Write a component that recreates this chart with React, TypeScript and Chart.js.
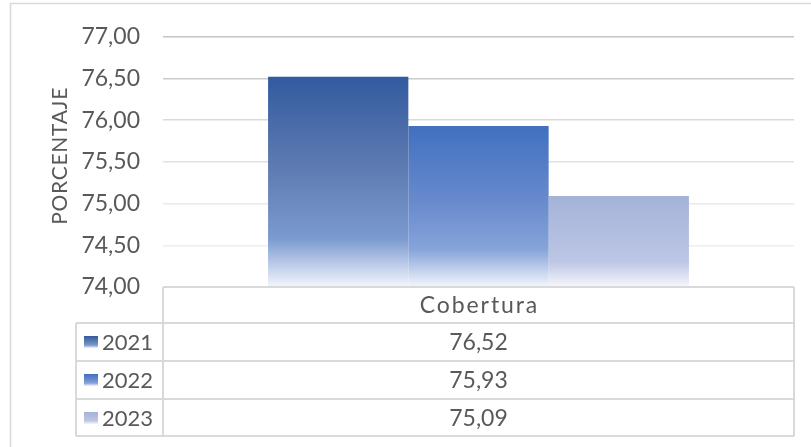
import React, { useEffect, useRef } from 'react';
import { Chart, registerables } from 'chart.js';

Chart.register(...registerables);

const categories = ['Cobertura'];
const seriesNames = ['2021', '2022', '2023'];
const seriesValues = [76.52, 75.93, 75.09];
const yMin = 74;
const yMax = 77;
const yStep = 0.5;
const axisTitle = 'PORCENTAJE';

const gradientStops: [number, string][][] = [
  [[0, '#335a9f'], [0.45, '#5f7db3'], [0.77, '#7b9ad0'], [1, '#f3f6fc']],
  [[0, '#4170c0'], [0.45, '#6689cc'], [0.77, '#87a4da'], [1, '#f3f6fc']],
  [[0, '#a5b3d9'], [0.72, '#bcc6e4'], [1, '#f6f7fc']],
];

const FONT = 'Lato, "Open Sans", sans-serif';
const TEXT = '#595959';
const LINE = '#d9d9d9';

const fmt = (v: number) => v.toFixed(2).replace('.', ',');

function makeGradient(ctx: CanvasRenderingContext2D, top: number, bottom: number, stops: [number, string][]) {
  const g = ctx.createLinearGradient(0, top, 0, bottom);
  stops.forEach(([o, c]) => g.addColorStop(o, c));
  return g;
}

const tablePlugin = {
  id: 'dataTable',
  afterDraw(chart: any) {
    const { ctx, chartArea } = chart;
    const left = chartArea.left;
    const right = chartArea.right;
    const top = chartArea.bottom;
    const colLeft = 76;
    const headerH = 36;
    const rowH = 38;
    const rowsTop = top + headerH;
    const bottom = rowsTop + rowH * seriesNames.length - 1;

    ctx.save();
    // outer chart border
    ctx.strokeStyle = LINE;
    ctx.lineWidth = 1.5;
    ctx.strokeRect(10.5, 3.5, 1000, 1000);

    // axis title
    ctx.fillStyle = TEXT;
    ctx.font = `21px ${FONT}`;
    (ctx as any).letterSpacing = '0.7px';
    ctx.textAlign = 'center';
    ctx.textBaseline = 'middle';
    ctx.save();
    ctx.translate(60, (chartArea.top + chartArea.bottom) / 2 - 6);
    ctx.rotate(-Math.PI / 2);
    ctx.fillText(axisTitle, 0, 0);
    ctx.restore();

    // table lines
    ctx.strokeStyle = LINE;
    ctx.lineWidth = 2;
    ctx.beginPath();
    ctx.moveTo(left, top);
    ctx.lineTo(right, top);
    for (let i = 0; i <= seriesNames.length; i++) {
      const y = i === seriesNames.length ? bottom : rowsTop + rowH * i;
      ctx.moveTo(colLeft, y);
      ctx.lineTo(right, y);
    }
    ctx.moveTo(left, top);
    ctx.lineTo(left, bottom);
    ctx.moveTo(right, top);
    ctx.lineTo(right, bottom);
    ctx.moveTo(colLeft, rowsTop);
    ctx.lineTo(colLeft, bottom);
    ctx.stroke();

    // header
    ctx.fillStyle = TEXT;
    ctx.font = `23px ${FONT}`;
    (ctx as any).letterSpacing = '1.9px';
    ctx.textAlign = 'center';
    ctx.textBaseline = 'middle';
    const cx = (left + right) / 2;
    ctx.fillText(categories[0], cx + 1, top + headerH / 2 + 1);
    (ctx as any).letterSpacing = '0px';

    seriesNames.forEach((name, i) => {
      const cy = rowsTop + rowH * i + rowH / 2;
      ctx.fillStyle = TEXT;
      ctx.font = `23px ${FONT}`;
      ctx.textAlign = 'center';
      ctx.fillText(fmt(seriesValues[i]), cx, cy + 1);
      ctx.font = `22px ${FONT}`;
      ctx.textAlign = 'left';
      ctx.fillText(name, 102, cy + 1);
      ctx.fillStyle = makeGradient(ctx, cy - 6, cy + 6, gradientStops[i]);
      ctx.fillRect(84, cy - 6, 14, 12);
    });
    ctx.restore();
  },
};

const gridColors: Record<string, string> = {
  '77': '#c4c4c4',
  '76.5': '#cbcbcb',
  '76': '#dadada',
  '75.5': '#e1e1e1',
  '75': '#eaeaea',
  '74.5': '#eeeeee',
  '74': '#d9d9d9',
};

export default function App() {
  const ref = useRef<HTMLCanvasElement>(null);

  useEffect(() => {
    if (!ref.current) return;
    const chart = new Chart(ref.current, {
      type: 'bar',
      data: {
        labels: categories,
        datasets: seriesNames.map((name, i) => ({
          label: name,
          data: [seriesValues[i]],
          borderWidth: 0,
          backgroundColor: (c: any) => {
            const ch = c.chart;
            if (!ch.chartArea || !ch.scales || !ch.scales.y) return gradientStops[i][0][1];
            const y = ch.scales.y.getPixelForValue(c.raw);
            const base = ch.scales.y.getPixelForValue(yMin);
            return makeGradient(ch.ctx, y, base, gradientStops[i]);
          },
        })),
      },
      options: {
        responsive: false,
        animation: false,
        layout: { padding: { left: 0, right: 17, top: 33, bottom: 160 } },
        plugins: { legend: { display: false }, tooltip: { enabled: false } },
        datasets: { bar: { categoryPercentage: 0.667, barPercentage: 1 } },
        scales: {
          x: { display: false },
          y: {
            min: yMin,
            max: yMax,
            border: { display: false },
            grid: {
              drawTicks: false,
              lineWidth: 1.5,
              color: (c: any) => gridColors[String(c.tick?.value)] || '#e5e5e5',
            },
            ticks: {
              stepSize: yStep,
              padding: 23,
              color: TEXT,
              font: { family: FONT, size: 23 },
              callback: (v: any) => fmt(Number(v)),
            },
            afterFit: (s: any) => {
              s.width = 163;
            },
          },
        },
      },
      plugins: [tablePlugin],
    } as any);
    return () => chart.destroy();
  }, []);

  return (
    <div style={{ position: 'absolute', left: 0, top: 0, width: 811, height: 447, background: '#fff' }}>
      <canvas ref={ref} width={811} height={447} />
    </div>
  );
}
